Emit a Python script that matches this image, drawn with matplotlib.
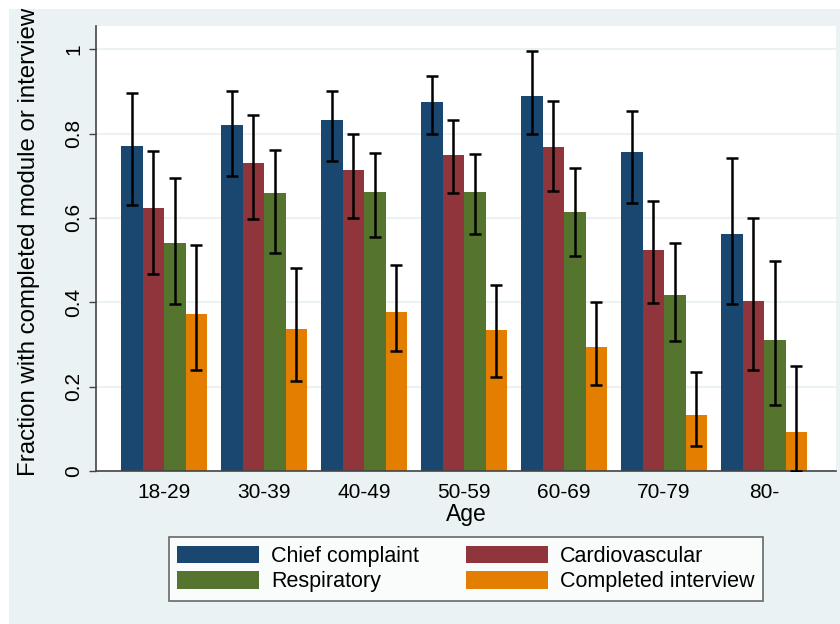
import matplotlib.pyplot as plt
import numpy as np
from matplotlib.patches import Rectangle

plt.rcParams['font.family'] = ['Liberation Sans', 'DejaVu Sans']

ages = ["18-29", "30-39", "40-49", "50-59", "60-69", "70-79", "80-"]
series = ["Chief complaint", "Cardiovascular", "Respiratory", "Completed interview"]
colors = ["#1a476f", "#90353b", "#55752f", "#e37e00"]

# means and 95% CI bounds
chief = [0.770, 0.821, 0.831, 0.875, 0.889, 0.756, 0.561]
chief_lo = [0.630, 0.700, 0.735, 0.799, 0.799, 0.636, 0.396]
chief_hi = [0.897, 0.900, 0.900, 0.937, 0.995, 0.853, 0.742]

cardio = [0.624, 0.731, 0.714, 0.749, 0.769, 0.525, 0.404]
cardio_lo = [0.468, 0.598, 0.599, 0.660, 0.665, 0.398, 0.239]
cardio_hi = [0.758, 0.843, 0.800, 0.832, 0.878, 0.641, 0.599]

resp = [0.541, 0.660, 0.662, 0.662, 0.614, 0.417, 0.310]
resp_lo = [0.396, 0.518, 0.555, 0.561, 0.509, 0.308, 0.157]
resp_hi = [0.694, 0.761, 0.754, 0.752, 0.718, 0.540, 0.498]

interview = [0.373, 0.337, 0.377, 0.335, 0.295, 0.133, 0.092]
interview_lo = [0.239, 0.213, 0.284, 0.223, 0.203, 0.059, 0.001]
interview_hi = [0.536, 0.482, 0.489, 0.441, 0.400, 0.234, 0.248]

means = [chief, cardio, resp, interview]
lows = [chief_lo, cardio_lo, resp_lo, interview_lo]
highs = [chief_hi, cardio_hi, resp_hi, interview_hi]

bg = "#eaf2f3"
fig = plt.figure(figsize=(8.4, 6.24), dpi=100, facecolor="white")
# stata-like graph region, white strip top and left like the crop
fig.patches.append(Rectangle((9/840, 0), 1, 1 - 9/624, transform=fig.transFigure,
                             facecolor=bg, edgecolor="none", zorder=-10))

ax = fig.add_axes([96/840, 153/624, 740/840, 445/624])
ax.set_facecolor("white")

x = np.arange(len(ages))
w = 0.215
for i in range(4):
    pos = x + (i - 1.5) * w
    m = np.array(means[i])
    lo = np.array(lows[i])
    hi = np.array(highs[i])
    ax.bar(pos, m, width=w, color=colors[i], label=series[i], zorder=2)
    ax.errorbar(pos, m, yerr=[m - lo, hi - m], fmt="none", ecolor="black",
                elinewidth=1.8, capsize=4, capthick=1.8, zorder=3)

ax.set_xlim(-0.68, 6.72)
ax.set_ylim(0, 1.055)
ax.set_yticks([0, 0.2, 0.4, 0.6, 0.8, 1])
ax.set_yticklabels(["0", "0.2", "0.4", "0.6", "0.8", "1"], rotation=90, va="center")
ax.set_xticks(x)
ax.set_xticklabels(ages)
ax.tick_params(axis="x", length=0, labelsize=15, pad=9)
ax.tick_params(axis="y", length=5, width=1, color="#444444", labelsize=15, pad=4)
ax.yaxis.grid(True, color=bg, linewidth=1.5, zorder=0)
ax.set_axisbelow(True)

for s in ["top", "right"]:
    ax.spines[s].set_visible(False)
for s in ["left", "bottom"]:
    ax.spines[s].set_color("#444444")
    ax.spines[s].set_linewidth(1.2)

ax.set_xlabel("Age", fontsize=16.5, labelpad=0)
ax.set_ylabel("Fraction with completed module or interview", fontsize=17.3, labelpad=10)
ax.yaxis.set_label_coords(-0.075, 0.515)

handles, labels = ax.get_legend_handles_labels()
order = [0, 2, 1, 3]
leg = fig.legend([handles[k] for k in order], [labels[k] for k in order],
                 loc="lower center", bbox_to_anchor=(466/840, 23/624), ncol=2,
                 fontsize=15.5, frameon=True, fancybox=False, edgecolor="#444444",
                 handlelength=3.8, handleheight=0.85, columnspacing=2.2,
                 labelspacing=0.2, borderpad=0.4, handletextpad=0.55,
                 borderaxespad=0)
leg.get_frame().set_linewidth(1.2)

fig.savefig("out.png", dpi=100, facecolor=fig.get_facecolor())
